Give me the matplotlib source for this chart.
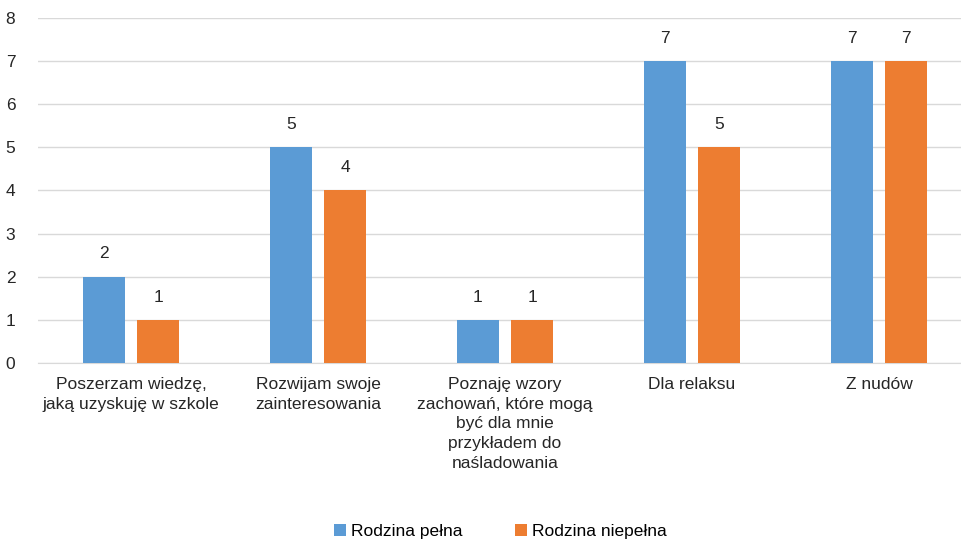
import matplotlib.pyplot as plt
import numpy as np

plt.rcParams['font.family'] = ['Liberation Sans', 'DejaVu Sans']

kategorie = ['Poszerzam wiedzę,\njaką uzyskuję w szkole',
             'Rozwijam swoje\nzainteresowania',
             'Poznaję wzory\nzachowań, które mogą\nbyć dla mnie\nprzykładem do\nnaśladowania',
             'Dla relaksu',
             'Z nudów']
pelna = [2, 5, 1, 7, 7]
niepelna = [1, 4, 1, 5, 7]
serie = ['Rodzina pełna', 'Rodzina niepełna']

fig = plt.figure(figsize=(9.62, 5.45), dpi=100)
ax = fig.add_axes([0.039, 0.334, 0.972, 0.633])

x = np.arange(len(kategorie))
w = 0.225
g = 0.065
b1 = ax.bar(x - w/2 - g/2, pelna, w, color='#5B9BD5', label=serie[0], zorder=3)
b2 = ax.bar(x + w/2 + g/2, niepelna, w, color='#ED7D31', label=serie[1], zorder=3)
ax.bar_label(b1, padding=11, fontsize=12.5, color='#262626')
ax.bar_label(b2, padding=11, fontsize=12.5, color='#262626')

ax.set_ylim(0, 8)
ax.set_xlim(-0.5, len(kategorie) - 0.5)
ax.set_yticks(range(0, 9))
ax.set_xticks(x)
ax.set_xticklabels(kategorie, fontsize=12.5, color='#262626', va='top', linespacing=1.4)
ax.tick_params(axis='y', labelsize=12.5, labelcolor='#262626', length=0, pad=16)
ax.tick_params(axis='x', length=0, pad=10)
ax.grid(axis='y', color='#D9D9D9', linewidth=1, zorder=0)
for s in ['top', 'right', 'left']:
    ax.spines[s].set_visible(False)
ax.spines['bottom'].set_color('#D9D9D9')

fig.legend(handles=[b1, b2], loc='lower center', bbox_to_anchor=(0.52, -0.018), ncol=2,
           frameon=False, fontsize=12.5, handlelength=0.7, handleheight=0.7,
           handletextpad=0.3, columnspacing=3)

fig.savefig('out.png', dpi=100)
